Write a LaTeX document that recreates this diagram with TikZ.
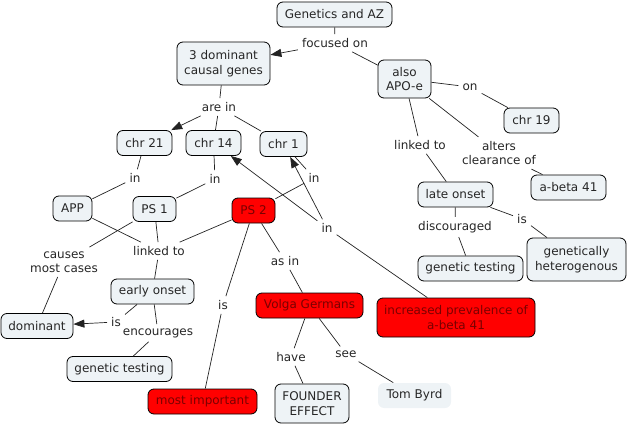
\documentclass[tikz,border=0pt]{standalone}
\usepackage{fontspec}
\setmainfont{DejaVu Sans}
\usetikzlibrary{arrows.meta}
\definecolor{cfill}{HTML}{EEF3F6}
\definecolor{cred}{HTML}{FF0000}
\definecolor{credtext}{HTML}{7A0000}
\definecolor{cline}{HTML}{222222}
\begin{document}
\begin{tikzpicture}[x=1pt,y=-1pt,
  every node/.style={font=\fontsize{12}{14.5}\selectfont, align=center},
  concept/.style={draw=black, line width=0.8pt, fill=cfill, rounded corners=6pt,
    inner xsep=5pt, inner ysep=3pt, minimum height=25pt, text=black!85},
  redconcept/.style={concept, fill=cred, text=credtext},
  plainconcept/.style={concept, draw=none},
  lbl/.style={inner xsep=4pt, inner ysep=4pt, text=black!85},
  link/.style={draw=cline, line width=0.7pt},
  arr/.style={link, -{Triangle[length=11pt,width=8pt]}}
]
\useasboundingbox (0,0) rectangle (629,425);

% concepts
\node[concept, minimum width=115pt] (gen) at (334.5,14.5) {Genetics and AZ};
\node[concept, minimum width=93pt, minimum height=43pt] (dom3) at (223.5,63.5) {3 dominant\\causal genes};
\node[concept, minimum width=53pt, minimum height=38pt] (apoe) at (404.5,79) {also\\APO-e};
\node[concept, minimum width=55pt] (chr19) at (531.5,120.5) {chr 19};
\node[concept, minimum width=75pt] (abeta) at (568.5,187.5) {a-beta 41};
\node[concept, minimum width=75pt] (late) at (455.5,194.5) {late onset};
\node[concept, minimum width=105pt] (gtr) at (470.5,268.5) {genetic testing};
\node[concept, minimum width=99pt, minimum height=43pt] (het) at (576.5,259.5) {genetically\\heterogenous};
\node[concept, minimum width=55pt] (chr21) at (144.5,143) {chr 21};
\node[concept, minimum width=55pt] (chr14) at (213.5,143) {chr 14};
\node[concept, minimum width=47pt] (chr1) at (283.5,144) {chr 1};
\node[concept, minimum width=39pt] (app) at (72.5,208.5) {APP};
\node[concept, minimum width=43pt] (ps1) at (154.5,209) {PS 1};
\node[redconcept, minimum width=43pt] (ps2) at (253.5,210.5) {PS 2};
\node[concept, minimum width=83pt] (early) at (152.5,291.5) {early onset};
\node[concept, minimum width=72pt] (domi) at (37,326) {dominant};
\node[concept, minimum width=105pt] (gtl) at (119.5,369) {genetic testing};
\node[redconcept, minimum width=107pt] (volga) at (309.5,305.5) {Volga Germans};
\node[redconcept, minimum width=158pt, minimum height=39pt] (prev) at (456,317.5) {increased prevalence of\\a-beta 41};
\node[redconcept, minimum width=109pt] (most) at (202.5,401.5) {most important};
\node[concept, minimum width=74pt, minimum height=39pt] (found) at (312,403.5) {FOUNDER\\EFFECT};
\node[plainconcept, minimum width=73pt] (tom) at (414.5,395.5) {Tom Byrd};

% linking phrases
\node[lbl] (focused) at (335,43) {focused on};
\node[lbl] (on) at (470,87) {on};
\node[lbl] (linkr) at (420,145) {linked to};
\node[lbl] (alters) at (499,153) {alters\\clearance of};
\node[lbl] (disc) at (455,227) {discouraged};
\node[lbl] (isr) at (522,219) {is};
\node[lbl] (arein) at (219,107) {are in};
\node[lbl] (in21) at (135,178) {in};
\node[lbl] (in14) at (215,179) {in};
\node[lbl] (in1) at (314,178) {in};
\node[lbl] (inbig) at (327,228) {in};
\node[lbl] (linkl) at (159,251) {linked to};
\node[lbl] (causes) at (64,262) {causes\\most cases};
\node[lbl] (isl) at (116,322) {is};
\node[lbl] (enc) at (158,333) {encourages};
\node[lbl] (isps2) at (223,305) {is};
\node[lbl] (asin) at (285,261) {as in};
\node[lbl] (have) at (291,357) {have};
\node[lbl] (see) at (346,354) {see};

% connectors
\draw[link] (gen) -- (focused);
\draw[arr] (focused) -- (dom3);
\draw[link] (focused) -- (apoe);
\draw[link] (apoe) -- (on);
\draw[link] (on) -- (chr19);
\draw[link] (apoe) -- (linkr);
\draw[link] (linkr) -- (late);
\draw[link] (apoe) -- (alters);
\draw[link] (alters) -- (abeta);
\draw[link] (late) -- (disc);
\draw[link] (disc) -- (gtr);
\draw[link] (late) -- (isr);
\draw[link] (isr) -- (het);
\draw[link] (dom3) -- (arein);
\draw[arr] (arein) -- (chr21);
\draw[link] (arein) -- (chr14);
\draw[link] (arein) -- (chr1);
\draw[link] (chr21) -- (in21);
\draw[link] (in21) -- (app);
\draw[link] (chr14) -- (in14);
\draw[link] (in14) -- (ps1);
\draw[link] (chr1) -- (in1);
\draw[link] (in1) -- (ps2);
\draw[link] (prev) -- (inbig);
\draw[arr] (inbig) -- (chr14);
\draw[arr] (inbig) -- (chr1);
\draw[link] (app) -- (linkl);
\draw[link] (ps1) -- (linkl);
\draw[link] (ps2) -- (linkl);
\draw[link] (linkl) -- (early);
\draw[link] (ps1) -- (causes);
\draw[link] (causes) -- (domi);
\draw[link] (early) -- (isl);
\draw[arr] (isl) -- (domi);
\draw[link] (early) -- (enc);
\draw[link] (enc) -- (gtl);
\draw[link] (ps2) -- (isps2);
\draw[link] (isps2) -- (most);
\draw[link] (ps2) -- (asin);
\draw[link] (asin) -- (volga);
\draw[link] (volga) -- (have);
\draw[link] (have) -- (found);
\draw[link] (volga) -- (see);
\draw[link] (see) -- (tom);
\end{tikzpicture}
\end{document}
